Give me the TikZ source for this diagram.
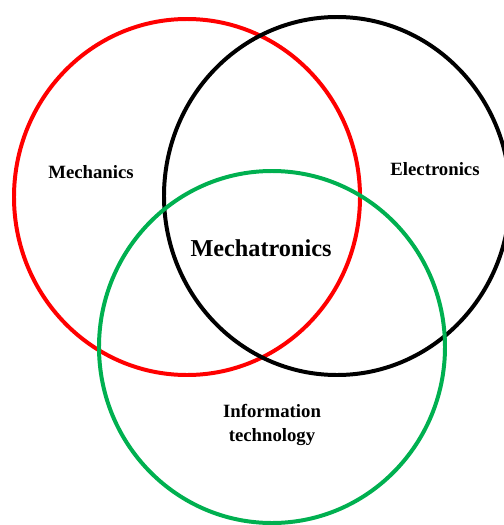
\documentclass[tikz,border=0pt]{standalone}
\usepackage{fontspec}
\setmainfont{Liberation Serif}
\definecolor{itgreen}{RGB}{0,176,80}

\begin{document}
\begin{tikzpicture}[x=0.03cm, y=-0.03cm,
    ring/.style={line width=3.4pt},
    field/.style={font=\fontsize{16}{20}\selectfont\bfseries, align=center}]
  \useasboundingbox (0,0) rectangle (504,525);

  \coordinate (cm) at (187,197);
  \coordinate (ce) at (337,196);
  \coordinate (ci) at (272,347);

  \draw[ring, red]      (cm) ellipse [x radius=173, y radius=178];
  \draw[ring, black]    (ce) ellipse [x radius=173, y radius=179];
  \draw[ring, itgreen]  (ci) ellipse [x radius=173, y radius=176];

  \node[field] (mech) at (91,172)  {Mechanics};
  \node[field] (elec) at (435,169) {Electronics};
  \node[field] (info) at (272,425) {Information\\technology};
  \node[field, font=\fontsize{20.7}{24}\selectfont\bfseries] (mtr) at (261,248) {Mechatronics};
\end{tikzpicture}
\end{document}
